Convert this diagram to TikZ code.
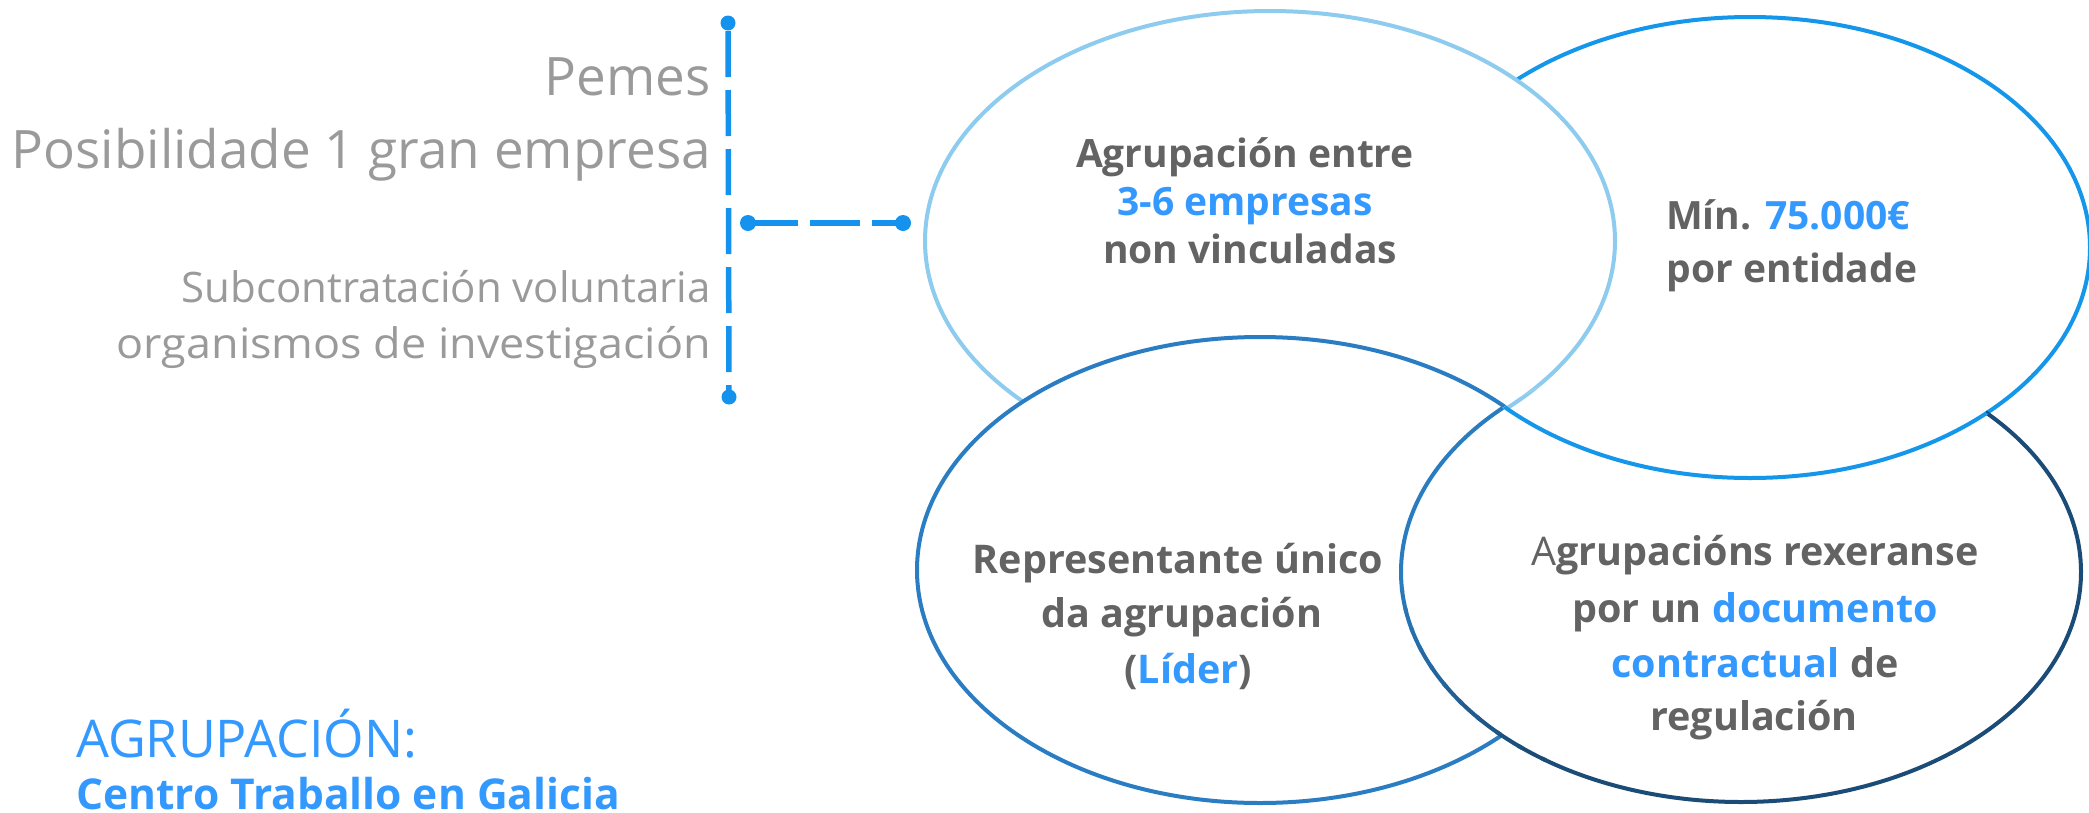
\documentclass[tikz,border=0pt]{standalone}
\usepackage{fontspec}
\setmainfont{Open Sans}
\definecolor{tgray}{HTML}{636363}
\definecolor{tblue}{HTML}{3399FF}
\definecolor{lgray}{HTML}{9A9A9A}
\definecolor{lineblue}{HTML}{1592EE}
\definecolor{colA}{HTML}{8DCBEF}
\definecolor{colB}{HTML}{1496EB}
\definecolor{colC}{HTML}{2A7DC2}
\definecolor{colDmid}{HTML}{2A7CC0}
\definecolor{colDnavy}{HTML}{1B4C78}
\begin{document}
\begin{tikzpicture}[x=1pt,y=-1pt,
  lefttxt/.style={inner sep=0,anchor=base east,text=lgray},
  bigleft/.style={lefttxt,font=\fontsize{53}{63}\selectfont},
  smallleft/.style={lefttxt,font=\fontsize{42}{50}\selectfont},
  ctxt/.style={inner sep=0,anchor=base,text=tgray,font=\bfseries\fontsize{39}{47}\selectfont},
  dtxt/.style={ctxt,font=\bfseries\fontsize{39.5}{47}\selectfont},
  dotnode/.style={circle,fill=lineblue,inner sep=0,minimum size=15pt},
  vline/.style={draw=lineblue,line width=5.5pt,dash pattern=on 46pt off 13pt,dash phase=51pt},
  hline/.style={draw=lineblue,line width=5.5pt,dash pattern=on 50pt off 12pt},
  ring/.style={line width=4pt},
]
\useasboundingbox (0,0) rectangle (2089,812);

\coordinate (cA) at (1270,241);
\coordinate (cB) at (1750,247.5);
\coordinate (cC) at (1260,570);
\coordinate (cD) at (1741,572);

% ellipses, stacked: B, A, C, D, then B over D
\path[ring,fill=white,draw=colB] (cB) ellipse [x radius=340,y radius=230.5];
\path[ring,fill=white,draw=colA] (cA) ellipse [x radius=345,y radius=230];
\path[ring,fill=white,draw=colC] (cC) ellipse [x radius=343,y radius=233];
\fill[white] (cD) ellipse [x radius=340,y radius=230];
\begin{scope}
  \clip (cD) ellipse [x radius=340,y radius=230];
  \draw[ring,colA] (cA) ellipse [x radius=345,y radius=230];
  \fill[white] (cC) ellipse [x radius=343,y radius=233];
\end{scope}
\draw[ring,colDnavy] (cD) ++(-44:340 and 230) arc[start angle=-44,end angle=126,x radius=340,y radius=230];
\foreach \s in {125,130,...,170}{
  \pgfmathtruncatemacro\t{(175-\s)*2}
  \draw[ring,color=colDnavy!\t!colDmid] (cD) ++(\s:340 and 230) arc[start angle=\s,end angle=\s+6,x radius=340,y radius=230];
}
\draw[ring,colDmid] (cD) ++(175:340 and 230) arc[start angle=175,end angle=225.5,x radius=340,y radius=230];
\begin{scope}
  \clip (cD) ellipse [x radius=340,y radius=230];
  \draw[ring,colB] (cB) ellipse [x radius=340,y radius=230.5];
\end{scope}

% texts in the ellipses
\node[ctxt] (tA1) at (1245,167) {Agrupación entre};
\node[ctxt,text=tblue] (tA2) at (1245,215) {3-6 empresas};
\node[ctxt] (tA3) at (1250,263) {non vinculadas};

\node[ctxt] (tB1) at (1788,229) {Mín. \textcolor{tblue}{75.000€}};
\node[ctxt] (tB2) at (1792,282) {por entidade};

\node[dtxt] (tC1) at (1178,573) {Representante único};
\node[dtxt] (tC2) at (1182,627) {da agrupación};
\node[dtxt] (tC3) at (1188,683) {(\textcolor{tblue}{Líder})};

\node[dtxt] (tD1) at (1755,565) {{\mdseries A}grupacións rexeranse};
\node[dtxt] (tD2) at (1755,622) {por un \textcolor{tblue}{documento}};
\node[dtxt] (tD3) at (1755,677) {\textcolor{tblue}{contractual} de};
\node[dtxt] (tD4) at (1754,730) {regulación};

% left texts
\node[bigleft] (p1) at (711,95) {Pemes};
\node[bigleft] (p2) at (711,168) {Posibilidade 1 gran empresa};
\node[smallleft] (s1) at (711,302) {Subcontratación voluntaria};
\node[smallleft,xscale=1.07] (s2) at (711,358) {organismos de investigación};

% bottom-left title
\node[inner sep=0,anchor=base west,text=tblue,font=\fontsize{52}{62}\selectfont] (ag) at (76,757) {AGRUPACIÓN:};
\node[inner sep=0,anchor=base west,text=tblue,font=\bfseries\fontsize{42.5}{50}\selectfont] (ct) at (76,809) {Centro Traballo en Galicia};

% connectors
\node[dotnode] (v1) at (728,23) {};
\node[dotnode] (v2) at (729,397) {};
\draw[vline] (v1.center) -- (v2.center);
\node[dotnode,minimum size=16pt] (h1) at (748,223) {};
\node[dotnode,minimum size=16pt] (h2) at (903,223) {};
\draw[hline] (h1.center) -- (h2.center);
\end{tikzpicture}
\end{document}
